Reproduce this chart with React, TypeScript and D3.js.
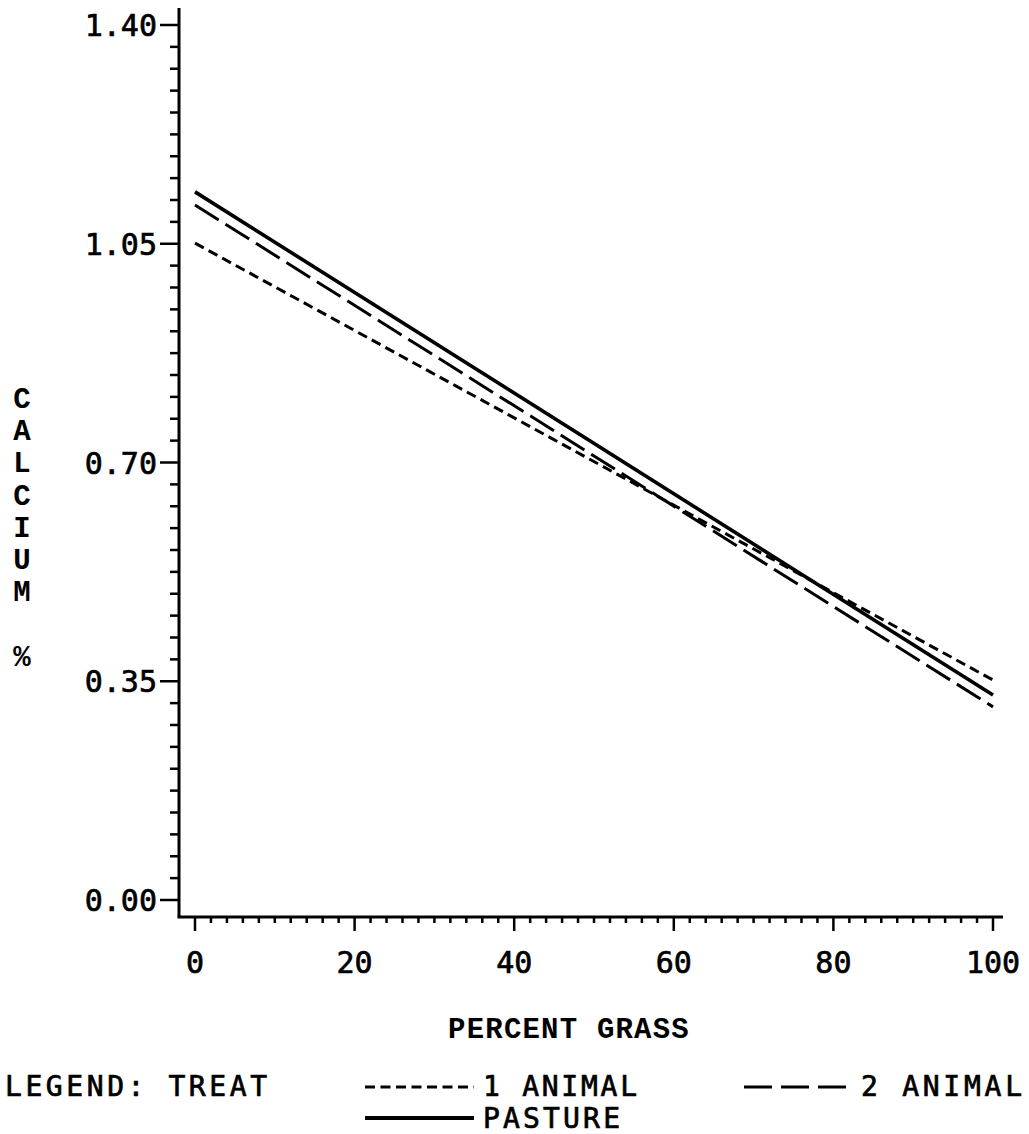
import React from "react";
import * as d3 from "d3";

// Fitted calcium (%) versus percent grass, one straight line per treatment
const grassPct: number[] = [0, 100];
const oneAnimal: number[] = [1.051, 0.352];
const twoAnimal: number[] = [1.112, 0.309];
const pasture: number[] = [1.133, 0.328];

const yMajorTicks: number[] = [0, 0.35, 0.7, 1.05, 1.4];
const yMajorLabels: string[] = ["0.00", "0.35", "0.70", "1.05", "1.40"];
const xMajorTicks: number[] = [0, 20, 40, 60, 80, 100];
const xMajorLabels: string[] = ["0", "20", "40", "60", "80", "100"];

const yTitleLetters: string[] = ["C", "A", "L", "C", "I", "U", "M", "", "%"];
const xTitle = "PERCENT GRASS";
const legendTitle = "LEGEND: TREAT";
const seriesNames: string[] = ["1 ANIMAL", "2 ANIMAL", "PASTURE"];

const W = 1029;
const H = 1134;

const plotFont = "'DejaVu Sans Mono', monospace";
const typeFont = "'Liberation Mono', 'Courier New', monospace";

export default function App() {
  const x = d3.scaleLinear().domain([0, 100]).range([195, 993]);
  const y = d3.scaleLinear().domain([0, 1.4]).range([900, 25]);

  const axisX0 = 179; // y-axis position
  const axisY0 = 917; // x-axis position

  const yMinor = d3.range(0, 41).map((i) => i * 0.035);
  const xMinor = d3.range(0, 51).map((i) => i * 2);

  const line = d3
    .line<[number, number]>()
    .x((d) => x(d[0]))
    .y((d) => y(d[1]));

  const series = [
    { name: seriesNames[0], values: oneAnimal, dash: "10 5.5", width: 3 },
    { name: seriesNames[1], values: twoAnimal, dash: "28 8", width: 3 },
    { name: seriesNames[2], values: pasture, dash: "none", width: 3.6 },
  ];

  const plotText = {
    fontFamily: plotFont,
    fill: "#000",
    stroke: "#000",
    strokeWidth: 0.7,
  };

  return (
    <svg
      width={W}
      height={H}
      viewBox={`0 0 ${W} ${H}`}
      style={{ position: "absolute", left: 0, top: 0, background: "#fff" }}
    >
      <rect width={W} height={H} fill="#fff" />

      {/* axes */}
      <line x1={axisX0} y1={8} x2={axisX0} y2={axisY0} stroke="#000" strokeWidth={3} />
      <line x1={axisX0 - 1.5} y1={axisY0} x2={1003} y2={axisY0} stroke="#000" strokeWidth={3} />

      {/* y ticks */}
      {yMinor.map((v, i) => (
        <line
          key={"ym" + i}
          x1={axisX0 - (i % 10 === 0 ? 19 : 9)}
          x2={axisX0}
          y1={y(v)}
          y2={y(v)}
          stroke="#000"
          strokeWidth={2.5}
        />
      ))}
      {yMajorTicks.map((v, i) => (
        <text key={"yl" + i} x={157} y={y(v) + 11} textAnchor="end" fontSize={30} {...plotText}>
          {yMajorLabels[i]}
        </text>
      ))}

      {/* x ticks */}
      {xMinor.map((v, i) => (
        <line
          key={"xm" + i}
          x1={x(v)}
          x2={x(v)}
          y1={axisY0}
          y2={axisY0 + (i % 10 === 0 ? 14 : 6)}
          stroke="#000"
          strokeWidth={2.5}
        />
      ))}
      {xMajorTicks.map((v, i) => (
        <text key={"xl" + i} x={x(v)} y={973} textAnchor="middle" fontSize={30} {...plotText}>
          {xMajorLabels[i]}
        </text>
      ))}

      {/* treatment lines */}
      {series.map((s) => (
        <path
          key={s.name}
          d={line(grassPct.map((g, i) => [g, s.values[i]] as [number, number])) || ""}
          fill="none"
          stroke="#000"
          strokeWidth={s.width}
          strokeDasharray={s.dash}
        />
      ))}

      {/* axis titles */}
      {yTitleLetters.map((ch, i) => (
        <text
          key={"yt" + i}
          x={22}
          y={408 + i * 32.2}
          textAnchor="middle"
          fontFamily={typeFont}
          fontWeight="bold"
          fontSize={29}
          fill="#000"
        >
          {ch}
        </text>
      ))}
      <text
        x={569}
        y={1038}
        textAnchor="middle"
        fontFamily={typeFont}
        fontWeight="bold"
        fontSize={29}
        letterSpacing={1.2}
        fill="#000"
      >
        {xTitle}
      </text>

      {/* legend */}
      <text x={5} y={1096} fontSize={28} textLength={262} lengthAdjust="spacing" {...plotText}>
        {legendTitle}
      </text>
      <line x1={365} x2={474} y1={1087} y2={1087} stroke="#000" strokeWidth={3} strokeDasharray="10 5.5" />
      <text x={483} y={1096} fontSize={28} textLength={154} lengthAdjust="spacing" {...plotText}>
        {seriesNames[0]}
      </text>
      <line x1={744} x2={846} y1={1087} y2={1087} stroke="#000" strokeWidth={3} strokeDasharray="28 9" />
      <text x={861} y={1096} fontSize={28} textLength={161} lengthAdjust="spacing" {...plotText}>
        {seriesNames[1]}
      </text>
      <line x1={365} x2={474} y1={1118} y2={1118} stroke="#000" strokeWidth={4} />
      <text x={483} y={1128} fontSize={28} textLength={137} lengthAdjust="spacing" {...plotText}>
        {seriesNames[2]}
      </text>
    </svg>
  );
}
